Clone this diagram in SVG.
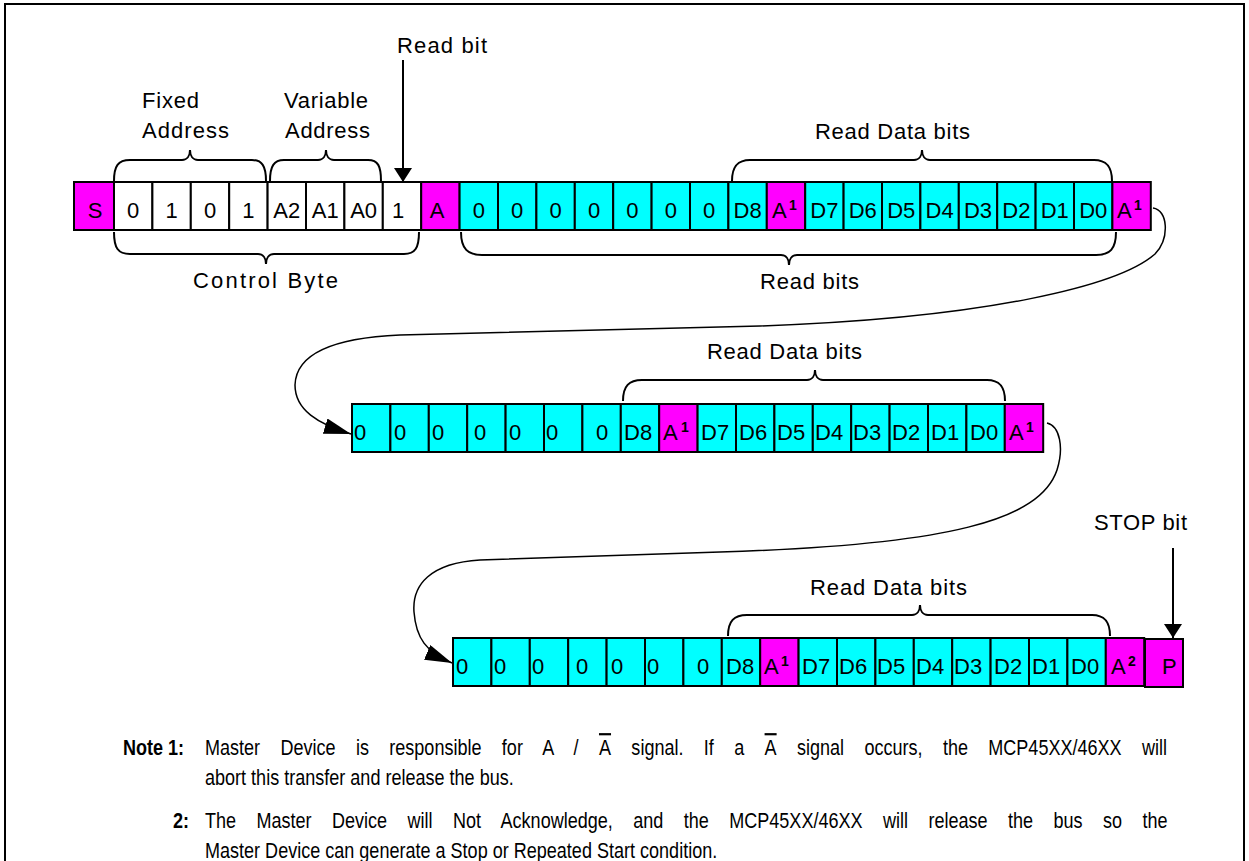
<svg xmlns="http://www.w3.org/2000/svg" width="1249" height="861" viewBox="0 0 1249 861">
<style>
.c{stroke:#000;stroke-width:2}
.m{fill:#FF00FF}
.y{fill:#00FFFF}
.w{fill:#FFFFFF}
.t{font-family:"Liberation Sans",Arial,sans-serif;font-size:22px;fill:#000}
.mid{text-anchor:middle}
.sup{font-family:"Liberation Sans",Arial,sans-serif;font-size:14px;font-weight:bold;fill:#000}
.lbl{font-family:"Liberation Sans",Arial,sans-serif;font-size:22px;fill:#000}
.br{fill:none;stroke:#000;stroke-width:2}
.cv{fill:none;stroke:#000;stroke-width:1.5}
.n{font-family:"Liberation Sans",Arial,sans-serif;font-size:22px;fill:#000}
.nb{font-family:"Liberation Sans",Arial,sans-serif;font-size:22px;font-weight:bold;fill:#000}
</style>
<defs>
<marker id="ah" viewBox="0 0 27 16" refX="27" refY="8" markerWidth="27" markerHeight="16" markerUnits="userSpaceOnUse" orient="auto">
<path d="M0,0 L27,8 L0,16 Z" fill="#000"/>
</marker>
<marker id="ahs" viewBox="0 0 14 18" refX="14" refY="9" markerWidth="14" markerHeight="18" markerUnits="userSpaceOnUse" orient="auto">
<path d="M0,0 L14,9 L0,18 Z" fill="#000"/>
</marker>
</defs>
<rect x="5" y="4" width="1239" height="870" fill="#fff" stroke="#000" stroke-width="2"/>

<g id="row1">
<rect class="c m" x="74" y="182" width="40" height="48"/>
<rect class="c w" x="114" y="182" width="38.4" height="48"/>
<rect class="c w" x="152.4" y="182" width="38.4" height="48"/>
<rect class="c w" x="190.8" y="182" width="38.4" height="48"/>
<rect class="c w" x="229.2" y="182" width="38.4" height="48"/>
<rect class="c w" x="267.6" y="182" width="38.4" height="48"/>
<rect class="c w" x="306" y="182" width="38.4" height="48"/>
<rect class="c w" x="344.4" y="182" width="38.4" height="48"/>
<rect class="c w" x="382.8" y="182" width="38.4" height="48"/>
<rect class="c m" x="421.2" y="182" width="38.4" height="48"/>
<rect class="c y" x="459.6" y="182" width="38.4" height="48"/>
<rect class="c y" x="498" y="182" width="38.4" height="48"/>
<rect class="c y" x="536.4" y="182" width="38.4" height="48"/>
<rect class="c y" x="574.8" y="182" width="38.4" height="48"/>
<rect class="c y" x="613.2" y="182" width="38.4" height="48"/>
<rect class="c y" x="651.6" y="182" width="38.4" height="48"/>
<rect class="c y" x="690" y="182" width="38.4" height="48"/>
<rect class="c y" x="728.4" y="182" width="38.4" height="48"/>
<rect class="c m" x="766.8" y="182" width="38.4" height="48"/>
<rect class="c y" x="805.2" y="182" width="38.4" height="48"/>
<rect class="c y" x="843.6" y="182" width="38.4" height="48"/>
<rect class="c y" x="882" y="182" width="38.4" height="48"/>
<rect class="c y" x="920.4" y="182" width="38.4" height="48"/>
<rect class="c y" x="958.8" y="182" width="38.4" height="48"/>
<rect class="c y" x="997.2" y="182" width="38.4" height="48"/>
<rect class="c y" x="1035.6" y="182" width="38.4" height="48"/>
<rect class="c y" x="1074" y="182" width="38.4" height="48"/>
<rect class="c m" x="1112.4" y="182" width="38.4" height="48"/>
<text class="t mid" x="95" y="218">S</text>
<text class="t mid" x="133.2" y="218">0</text>
<text class="t mid" x="171.6" y="218">1</text>
<text class="t mid" x="210" y="218">0</text>
<text class="t mid" x="248.4" y="218">1</text>
<text class="t mid" x="286.8" y="218">A2</text>
<text class="t mid" x="325.2" y="218">A1</text>
<text class="t mid" x="363.6" y="218">A0</text>
<text class="t mid" x="398" y="218">1</text>
<text class="t mid" x="437" y="218">A</text>
<text class="t mid" x="478.8" y="218">0</text>
<text class="t mid" x="517.2" y="218">0</text>
<text class="t mid" x="555.6" y="218">0</text>
<text class="t mid" x="594" y="218">0</text>
<text class="t mid" x="632.4" y="218">0</text>
<text class="t mid" x="670.8" y="218">0</text>
<text class="t mid" x="709.2" y="218">0</text>
<text class="t mid" x="747.6" y="218">D8</text>
<text class="t" x="772" y="218">A</text><text class="sup" x="789" y="210">1</text>
<text class="t mid" x="824.4" y="218">D7</text>
<text class="t mid" x="862.8" y="218">D6</text>
<text class="t mid" x="901.2" y="218">D5</text>
<text class="t mid" x="939.6" y="218">D4</text>
<text class="t mid" x="978" y="218">D3</text>
<text class="t mid" x="1016.4" y="218">D2</text>
<text class="t mid" x="1054.8" y="218">D1</text>
<text class="t mid" x="1093.2" y="218">D0</text>
<text class="t" x="1117" y="218">A</text><text class="sup" x="1134" y="210">1</text>
</g>

<g id="row2">
<rect class="c y" x="352" y="404" width="38.4" height="48"/>
<rect class="c y" x="390.4" y="404" width="38.4" height="48"/>
<rect class="c y" x="428.8" y="404" width="38.4" height="48"/>
<rect class="c y" x="467.2" y="404" width="38.4" height="48"/>
<rect class="c y" x="505.6" y="404" width="38.4" height="48"/>
<rect class="c y" x="544" y="404" width="38.4" height="48"/>
<rect class="c y" x="582.4" y="404" width="38.4" height="48"/>
<rect class="c y" x="620.8" y="404" width="38.4" height="48"/>
<rect class="c m" x="659.2" y="404" width="38.4" height="48"/>
<rect class="c y" x="697.6" y="404" width="38.4" height="48"/>
<rect class="c y" x="736" y="404" width="38.4" height="48"/>
<rect class="c y" x="774.4" y="404" width="38.4" height="48"/>
<rect class="c y" x="812.8" y="404" width="38.4" height="48"/>
<rect class="c y" x="851.2" y="404" width="38.4" height="48"/>
<rect class="c y" x="889.6" y="404" width="38.4" height="48"/>
<rect class="c y" x="928" y="404" width="38.4" height="48"/>
<rect class="c y" x="966.4" y="404" width="38.4" height="48"/>
<rect class="c m" x="1004.8" y="404" width="38.4" height="48"/>
<text class="t" x="354" y="440">0</text>
<text class="t" x="394" y="440">0</text>
<text class="t" x="432" y="440">0</text>
<text class="t" x="474" y="440">0</text>
<text class="t" x="509" y="440">0</text>
<text class="t" x="546" y="440">0</text>
<text class="t" x="596" y="440">0</text>
<text class="t" x="624" y="440">D8</text>
<text class="t" x="663" y="440">A</text><text class="sup" x="681" y="432">1</text>
<text class="t" x="701" y="440">D7</text>
<text class="t" x="739" y="440">D6</text>
<text class="t" x="777" y="440">D5</text>
<text class="t" x="815" y="440">D4</text>
<text class="t" x="853" y="440">D3</text>
<text class="t" x="892" y="440">D2</text>
<text class="t" x="931" y="440">D1</text>
<text class="t" x="970" y="440">D0</text>
<text class="t" x="1009" y="440">A</text><text class="sup" x="1026" y="432">1</text>
</g>

<g id="row3">
<rect class="c y" x="453" y="638" width="38.4" height="48"/>
<rect class="c y" x="491.4" y="638" width="38.4" height="48"/>
<rect class="c y" x="529.8" y="638" width="38.4" height="48"/>
<rect class="c y" x="568.2" y="638" width="38.4" height="48"/>
<rect class="c y" x="606.6" y="638" width="38.4" height="48"/>
<rect class="c y" x="645" y="638" width="38.4" height="48"/>
<rect class="c y" x="683.4" y="638" width="38.4" height="48"/>
<rect class="c y" x="721.8" y="638" width="38.4" height="48"/>
<rect class="c m" x="760.2" y="638" width="38.4" height="48"/>
<rect class="c y" x="798.6" y="638" width="38.4" height="48"/>
<rect class="c y" x="837" y="638" width="38.4" height="48"/>
<rect class="c y" x="875.4" y="638" width="38.4" height="48"/>
<rect class="c y" x="913.8" y="638" width="38.4" height="48"/>
<rect class="c y" x="952.2" y="638" width="38.4" height="48"/>
<rect class="c y" x="990.6" y="638" width="38.4" height="48"/>
<rect class="c y" x="1029" y="638" width="38.4" height="48"/>
<rect class="c y" x="1067.4" y="638" width="38.4" height="48"/>
<rect class="c m" x="1105.8" y="638" width="38.4" height="48"/>
<text class="t" x="456" y="674">0</text>
<text class="t" x="494" y="674">0</text>
<text class="t" x="532" y="674">0</text>
<text class="t" x="576" y="674">0</text>
<text class="t" x="611" y="674">0</text>
<text class="t" x="647" y="674">0</text>
<text class="t" x="697" y="674">0</text>
<text class="t" x="726" y="674">D8</text>
<text class="t" x="764" y="674">A</text><text class="sup" x="781" y="666">1</text>
<text class="t" x="802" y="674">D7</text>
<text class="t" x="839" y="674">D6</text>
<text class="t" x="877" y="674">D5</text>
<text class="t" x="916" y="674">D4</text>
<text class="t" x="954" y="674">D3</text>
<text class="t" x="994" y="674">D2</text>
<text class="t" x="1032" y="674">D1</text>
<text class="t" x="1071" y="674">D0</text>
<text class="t" x="1111" y="674">A</text><text class="sup" x="1128" y="666">2</text>
</g>

<g id="stop-cell">
<rect class="c m" x="1145" y="639" width="38" height="48"/>
<text class="t" x="1162" y="674">P</text>
</g>

<g id="labels">
<text class="lbl" x="397" y="53" textLength="90" lengthAdjust="spacing">Read bit</text>
<text class="lbl" x="142" y="108" textLength="57" lengthAdjust="spacing">Fixed</text>
<text class="lbl" x="142" y="138" textLength="87" lengthAdjust="spacing">Address</text>
<text class="lbl" x="284" y="108" textLength="84" lengthAdjust="spacing">Variable</text>
<text class="lbl" x="285" y="138" textLength="85" lengthAdjust="spacing">Address</text>
<text class="lbl" x="815" y="139" textLength="155" lengthAdjust="spacing">Read Data bits</text>
<text class="lbl" x="193" y="288" textLength="145" lengthAdjust="spacing">Control Byte</text>
<text class="lbl" x="760" y="289" textLength="99" lengthAdjust="spacing">Read bits</text>
<text class="lbl" x="707" y="359" textLength="155" lengthAdjust="spacing">Read Data bits</text>
<text class="lbl" x="810" y="595" textLength="157" lengthAdjust="spacing">Read Data bits</text>
<text class="lbl" x="1094" y="530" textLength="93" lengthAdjust="spacing">STOP bit</text>
</g>

<g id="braces">
<path class="br" d="M114,181 C114,166 118,160 130,160 L182,160 C187,160 190,156 190,150 C190,156 193,160 198,160 L252,160 C262,160 266,166 266,181"/>
<path class="br" d="M270,181 C270,166 274,160 284,160 L318,160 C323,160 326,156 326,150 C326,156 329,160 334,160 L368,160 C378,160 381,166 381,181"/>
<path class="br" d="M732,181 C732,166 738,160 750,160 L914,160 C919,160 922,156 922,150 C922,156 925,160 930,160 L1094,160 C1106,160 1112,166 1112,181"/>
<path class="br" d="M114,232 C114,248 118,254 130,254 L258,254 C263,254 266,258 266,264 C266,258 269,254 274,254 L404,254 C415,254 419,248 419,232"/>
<path class="br" d="M461,232 C461,249 468,255 482,255 L781,255 C786,255 789,259 789,265 C789,259 792,255 797,255 L1096,255 C1110,255 1116,249 1116,232"/>
<path class="br" d="M623,401 C623,386 629,380 642,380 L807,380 C812,380 815,376 815,370 C815,376 818,380 823,380 L987,380 C999,380 1005,386 1005,401"/>
<path class="br" d="M728,636 C728,621 734,615 747,615 L912,615 C917,615 920,611 920,605 C920,611 923,615 928,615 L1092,615 C1104,615 1110,621 1110,636"/>
</g>

<g id="connectors">
<line class="br" x1="403" y1="60" x2="403" y2="182" marker-end="url(#ahs)"/>
<line class="br" x1="1173" y1="548" x2="1173" y2="638" marker-end="url(#ahs)"/>
<path class="cv" d="M1153,208 C1168,210 1170,238 1155,254 C1120,285 990,318 760,326 L400,335 C330,338 296,355 295,385 C295,410 318,424 351,434" marker-end="url(#ah)"/>
<path class="cv" d="M1047,423 C1060,426 1064,448 1057,470 C1040,520 950,545 720,552 L480,560 C430,563 412,585 414,612 C416,638 426,652 452,663" marker-end="url(#ah)"/>
</g>

<g id="notes">
<g transform="scale(0.82,1)">
<text class="nb" x="150" y="755">Note 1:</text>
<text class="n" x="250" y="755" word-spacing="18.7">Master Device is responsible for A / <tspan text-decoration="overline">A</tspan> signal. If a <tspan text-decoration="overline">A</tspan> signal occurs, the MCP45XX/46XX will</text>
<text class="n" x="250" y="785">abort this transfer and release the bus.</text>
<text class="nb" x="211" y="828">2:</text>
<text class="n" x="250" y="828" word-spacing="18.8">The Master Device will Not Acknowledge, and the MCP45XX/46XX will release the bus so the</text>
<text class="n" x="250" y="858">Master Device can generate a Stop or Repeated Start condition.</text>
</g>
</g>
</svg>
